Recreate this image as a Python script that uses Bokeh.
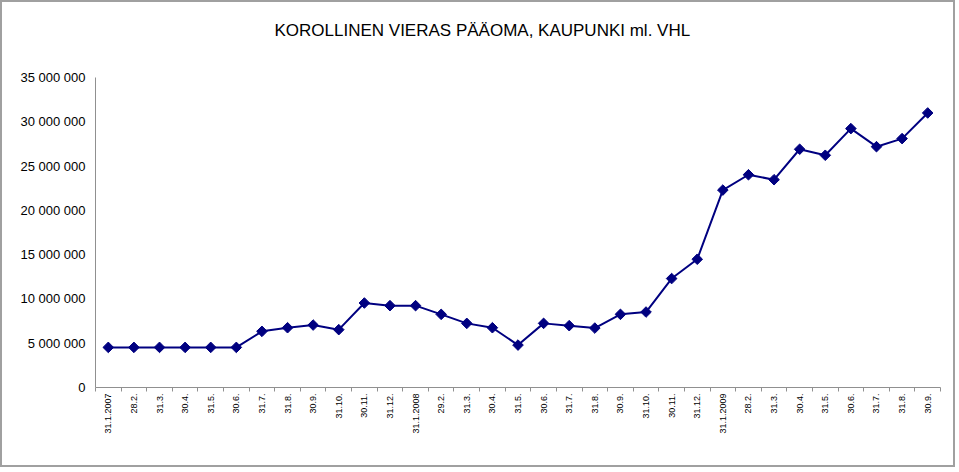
import math
from bokeh.plotting import figure
from bokeh.models import Range1d, FixedTicker, Title
from bokeh.embed import file_html
from bokeh.resources import INLINE

dates = ["31.1.2007", "28.2.", "31.3.", "30.4.", "31.5.", "30.6.", "31.7.", "31.8.", "30.9.",
         "31.10.", "30.11.", "31.12.",
         "31.1.2008", "29.2.", "31.3.", "30.4.", "31.5.", "30.6.", "31.7.", "31.8.", "30.9.",
         "31.10.", "30.11.", "31.12.",
         "31.1.2009", "28.2.", "31.3.", "30.4.", "31.5.", "30.6.", "31.7.", "31.8.", "30.9."]
values = [4530000, 4530000, 4530000, 4530000, 4530000, 4530000, 6340000, 6750000, 7050000,
          6530000, 9540000, 9240000,
          9240000, 8260000, 7240000, 6750000, 4790000, 7240000, 6980000, 6710000, 8260000,
          8520000, 12300000, 14480000,
          22290000, 24020000, 23460000, 26900000, 26220000, 29230000, 27190000, 28100000, 31000000]
y_ticks = [0, 5000000, 10000000, 15000000, 20000000, 25000000, 30000000, 35000000]
y_tick_labels = ["0", "5 000 000", "10 000 000", "15 000 000", "20 000 000", "25 000 000",
                 "30 000 000", "35 000 000"]
title_text = "KOROLLINEN VIERAS PÄÄOMA, KAUPUNKI ml. VHL"

FONT = "Liberation Sans"
xs = list(range(len(dates)))

p = figure(width=955, height=467, output_backend="svg", toolbar_location=None,
           x_range=Range1d(-0.5, len(dates) - 0.5), y_range=Range1d(0, 35000000),
           min_border_left=93, min_border_right=17, min_border_top=75, min_border_bottom=82,
           title=None)
p.styles = {"border": "2px solid #a0a0a0"}

spacer = Title(text=" ", text_font_size="1px", standoff=20)
p.add_layout(spacer, "above")
t = Title(text=title_text, align="left", offset=179, text_font=FONT, text_font_size="17px",
          text_font_style="normal", text_color="black", standoff=30)
p.add_layout(t, "above")

p.xgrid.visible = False
p.ygrid.visible = False
p.outline_line_color = None
p.background_fill_color = "white"
p.border_fill_color = "white"

# x axis
xa = p.xaxis[0]
xa.ticker = FixedTicker(ticks=xs, minor_ticks=[i - 0.5 for i in range(len(dates) + 1)])
xa.major_label_overrides = {i: d for i, d in enumerate(dates)}
xa.major_label_orientation = math.pi / 2
xa.major_tick_line_color = None
xa.major_tick_out = 0
xa.major_tick_in = 0
xa.minor_tick_line_color = "#909090"
xa.minor_tick_out = 4
xa.minor_tick_in = 0
xa.axis_line_color = "#909090"
xa.major_label_text_font = FONT
xa.major_label_text_font_size = "9px"
xa.major_label_text_color = "black"
xa.major_label_standoff = 2

# y axis
ya = p.yaxis[0]
ya.ticker = FixedTicker(ticks=y_ticks)
ya.major_label_overrides = {v: s for v, s in zip(y_ticks, y_tick_labels)}
ya.major_tick_line_color = None
ya.major_tick_out = 0
ya.major_tick_in = 0
ya.minor_tick_line_color = None
ya.axis_line_color = "#909090"
ya.major_label_text_font = FONT
ya.major_label_text_font_size = "13px"
ya.major_label_text_color = "black"
ya.major_label_standoff = 10

p.line(xs, values, line_color="#000080", line_width=2)
p.scatter(xs, values, marker="square", angle=math.pi / 4, size=7.5,
          fill_color="#000080", line_color="#000080")

open("out.html", "w").write(file_html(p, INLINE))
